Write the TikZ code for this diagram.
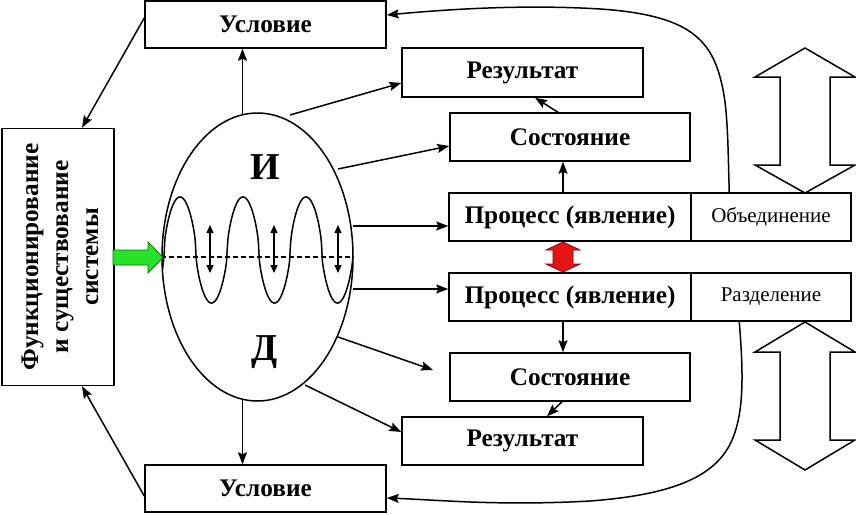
\documentclass[tikz,border=0pt]{standalone}
\usepackage{fontspec}
\setmainfont{Liberation Serif}
\usetikzlibrary{arrows.meta,shapes.geometric}
\begin{document}
\begin{tikzpicture}[x=1pt,y=-1pt,
  box/.style={draw,line width=1.5pt,inner sep=0pt,fill=white},
  btxt/.style={font=\bfseries\fontsize{25.3}{29}\selectfont},
  rtxt/.style={font=\fontsize{21}{24}\selectfont},
  arr/.style={line width=1.5pt,-{Stealth[length=12pt,width=9pt,inset=2pt]}},
  darr/.style={line width=1.2pt,{Triangle[length=8pt,width=7pt]}-{Triangle[length=8pt,width=7pt]}},
  curvearr/.style={line width=1.5pt,-{Stealth[length=12pt,width=9pt,inset=2pt]}},
  declare function={wc(\t)=cos(5.7143*(\t-180));
                    wv(\t)=250-53*sign(wc(\t))*pow(abs(wc(\t))+0.001,0.6);}]
\useasboundingbox (0,0) rectangle (856,514);
% boxes
\node[box,btxt,minimum width=241pt,minimum height=47pt] (ut) at (265.5,24.5) {Условие};
\node[box,btxt,minimum width=241pt,minimum height=47pt] (ub) at (265.5,488.5) {Условие};
\node[box,minimum width=112pt,minimum height=257pt] (fs) at (58,257) {};
\node[rotate=90,align=center,font=\bfseries\fontsize{25.3}{30}\selectfont] (fst) at (60,257) {Функционирование\\и существование\\системы};
\node[box,btxt,minimum width=241pt,minimum height=49pt] (r1) at (522.5,72.5) {Результат};
\node[box,btxt,minimum width=240pt,minimum height=48pt] (s1) at (570,137) {Состояние};
\node[box,btxt,minimum width=242pt,minimum height=48pt] (p1) at (570,217) {Процесс (явление)};
\node[box,rtxt,minimum width=160pt,minimum height=48pt] (o1) at (771,217) {Объединение};
\node[box,btxt,minimum width=242pt,minimum height=48pt] (p2) at (570,297) {Процесс (явление)};
\node[box,rtxt,minimum width=160pt,minimum height=48pt] (o2) at (771,297) {Разделение};
\node[box,btxt,minimum width=240pt,minimum height=48pt] (s2) at (570,377) {Состояние};
\node[box,btxt,minimum width=241pt,minimum height=48pt] (r2) at (522.5,441) {Результат};
% ellipse
\node[draw,ellipse,line width=1.5pt,minimum width=191pt,minimum height=288pt,inner sep=0pt] (el) at (257.5,257) {};
\begin{scope}
  \clip (257.5,257) ellipse [x radius=95.5, y radius=144];
  \draw[line width=1.5pt] plot[domain=150:362,samples=300,smooth] (\x,{wv(\x)});
\end{scope}
\draw[line width=1.2pt,dashed,dash pattern=on 5pt off 3pt] (el.west) -- (el.east);
\node[font=\bfseries\fontsize{38}{40}\selectfont] (li) at (265,167) {И};
\node[font=\bfseries\fontsize{38}{40}\selectfont] (ld) at (265,352) {Д};
\coordinate (d1a) at (210,225); \coordinate (d1b) at (210,273);
\coordinate (d2a) at (274,225); \coordinate (d2b) at (274,273);
\coordinate (d3a) at (338,225); \coordinate (d3b) at (338,273);
\draw[darr] (d1a) -- (d1b);
\draw[darr] (d2a) -- (d2b);
\draw[darr] (d3a) -- (d3b);
% green arrow
\draw[line width=0.8pt,draw=green!45!black,fill={rgb,255:red,40;green,225;blue,40}]
  (113,250) -- (148,250) -- (148,242) -- (163,257.5) -- (148,273) -- (148,265) -- (113,265) -- cycle;
% red arrow
\draw[line width=0.8pt,draw=red!55!black,fill={rgb,255:red,230;green,20;blue,20}]
  (563,242) -- (580,250) -- (573,250) -- (573,264) -- (580,264) -- (563,272) -- (546,264) -- (553,264) -- (553,250) -- (546,250) -- cycle;
% big outline arrows
\draw[line width=1.5pt] (805,48) -- (855,77) -- (830,77) -- (830,165) -- (855,165) -- (805,193) -- (755,165) -- (780,165) -- (780,77) -- (755,77) -- cycle;
\draw[line width=1.5pt] (805,322) -- (855,352) -- (830,352) -- (830,440) -- (855,440) -- (805,470) -- (755,440) -- (780,440) -- (780,352) -- (755,352) -- cycle;
% connectors
\draw[arr] (el.96.2) -- (el.96.2 |- ut.south);
\draw[arr] (el.-96.2) -- (el.-96.2 |- ub.north);
\draw[arr] ([yshift=6.5pt]ut.west) -- ([xshift=24pt]fs.north);
\draw[arr] ([yshift=-7.5pt]ub.west) -- ([xshift=24pt]fs.south);
\coordinate (a1) at (290,115);
\coordinate (a2) at (338,169);
\coordinate (a3) at (353,226);
\coordinate (a4) at (353,289);
\coordinate (a5) at (338,337);
\coordinate (a5e) at (433,370);
\coordinate (a6) at (305,385);
\draw[arr] (a1) -- ([yshift=-10.5pt]r1.west);
\draw[arr] (a2) -- ([yshift=-9pt]s1.west);
\draw[arr] (a3) -- (a3 -| p1.west);
\draw[arr] (a4) -- (a4 -| p2.west);
\draw[arr] (a5) -- (a5e);
\draw[arr] (a6) -- ([yshift=9pt]r2.west);
\draw[arr] ([xshift=-7pt]p1.north) -- ([xshift=-7pt]s1.south);
\draw[arr] ([xshift=-12pt]s1.north) -- ([xshift=12.5pt]r1.south);
\draw[arr] ([xshift=-7pt]p2.south) -- ([xshift=-7pt]s2.north);
\draw[arr] ([xshift=-8pt]s2.south) -- ([xshift=24.5pt]r2.north);
% feedback curves
\draw[curvearr] ([xshift=39pt]o1.north west) .. controls (728,150) and (728,110) .. (722,85)
  .. controls (712,40) and (690,15) .. (600,9) .. controls (520,4) and (440,10) .. ([yshift=9.5pt]ut.east);
\draw[curvearr] ([xshift=49pt]o2.south west) .. controls (744,380) and (744,420) .. (728,448)
  .. controls (710,478) and (670,495) .. (590,501) .. controls (500,506) and (440,500) .. ([yshift=-9.5pt]ub.east);
\end{tikzpicture}
\end{document}
